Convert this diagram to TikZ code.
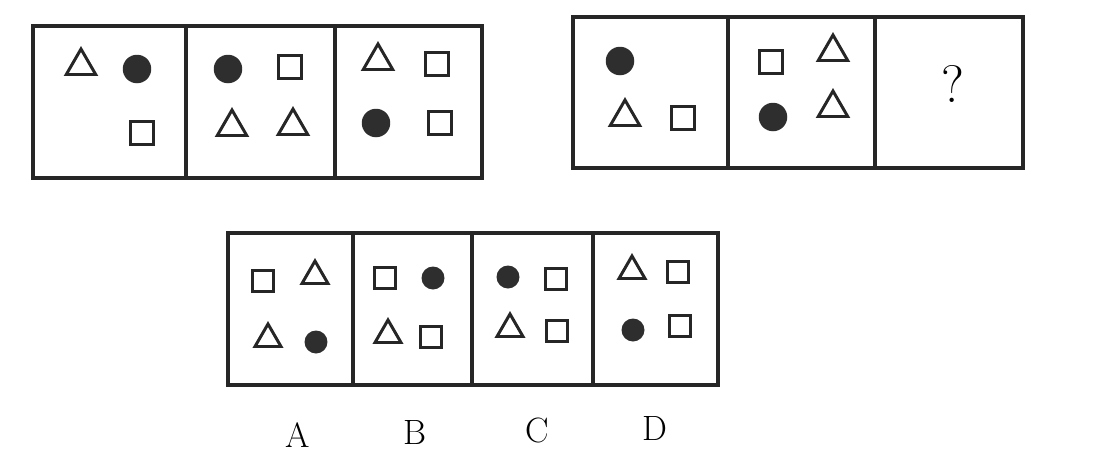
\documentclass[tikz,border=0pt]{standalone}
\usetikzlibrary{shapes.geometric}

\begin{document}
\begin{tikzpicture}[
  x=0.02cm,y=-0.02cm,
  box/.style={draw=black!85,line width=2pt},
  sq/.style={draw=black!85,line width=1.7pt,minimum size=#1,inner sep=0pt},
  sq/.default=0.46cm,
  tri/.style={regular polygon,regular polygon sides=3,draw=black!85,line width=1.7pt,
    line join=miter,minimum size=#1,inner sep=0pt,yshift=0.08cm},
  tri/.default=0.68cm,
  dot/.style={circle,fill=black!82,minimum size=#1,inner sep=0pt},
  dot/.default=0.57cm,
  mark label/.style={font=\fontsize{30}{32}\selectfont},
  choice/.style={font=\fontsize{20}{22}\selectfont},
]
\useasboundingbox (0,0) rectangle (1117,457);

% given row, left part
\draw[box] (33,26) rectangle (482,178);
\draw[box] (186,26) -- (186,178);
\draw[box] (335,26) -- (335,178);
\node[tri] (g1t) at (81,70) {};
\node[dot] (g1c) at (137,69) {};
\node[sq] (g1s) at (142,133) {};
\node[dot] (g2c) at (228,69) {};
\node[sq] (g2s) at (290,67) {};
\node[tri] (g2t) at (232,131) {};
\node[tri] (g2u) at (293,130) {};
\node[tri] (g3t) at (378,65) {};
\node[sq] (g3s) at (437,64) {};
\node[dot] (g3c) at (376,123) {};
\node[sq] (g3r) at (440,123) {};

% given row, right part
\draw[box] (573,17) rectangle (1023,168);
\draw[box] (728,17) -- (728,168);
\draw[box] (875,17) -- (875,168);
\node[dot] (h1c) at (620,61) {};
\node[tri] (h1t) at (625,121) {};
\node[sq] (h1s) at (683,118) {};
\node[sq] (h2s) at (771,62) {};
\node[tri] (h2t) at (833,56) {};
\node[dot] (h2c) at (773,117) {};
\node[tri] (h2u) at (833,112) {};
\node[mark label] (q) at (953,84) {?};

% answer choices
\draw[box] (228,233) rectangle (718,385);
\draw[box] (353,233) -- (353,385);
\draw[box] (472,233) -- (472,385);
\draw[box] (593,233) -- (593,385);
\node[sq=0.41cm] (a1) at (263,281) {};
\node[tri=0.6cm] (a2) at (315,280) {};
\node[tri=0.6cm] (a3) at (268,343) {};
\node[dot=0.46cm] (a4) at (316,342) {};
\node[sq=0.41cm] (b1) at (385,278) {};
\node[dot=0.46cm] (b2) at (433,278) {};
\node[tri=0.6cm] (b3) at (388,339) {};
\node[sq=0.41cm] (b4) at (431,337) {};
\node[dot=0.46cm] (c1) at (508,277) {};
\node[sq=0.41cm] (c2) at (556,279) {};
\node[tri=0.6cm] (c3) at (510,333) {};
\node[sq=0.41cm] (c4) at (557,331) {};
\node[tri=0.6cm] (d1) at (632,275) {};
\node[sq=0.41cm] (d2) at (678,272) {};
\node[dot=0.46cm] (d3) at (633,330) {};
\node[sq=0.41cm] (d4) at (680,326) {};

\node[choice] (la) at (298,435) {A};
\node[choice] (lb) at (415,432) {B};
\node[choice] (lc) at (537,430) {C};
\node[choice] (ld) at (655,428) {D};
\end{tikzpicture}
\end{document}
